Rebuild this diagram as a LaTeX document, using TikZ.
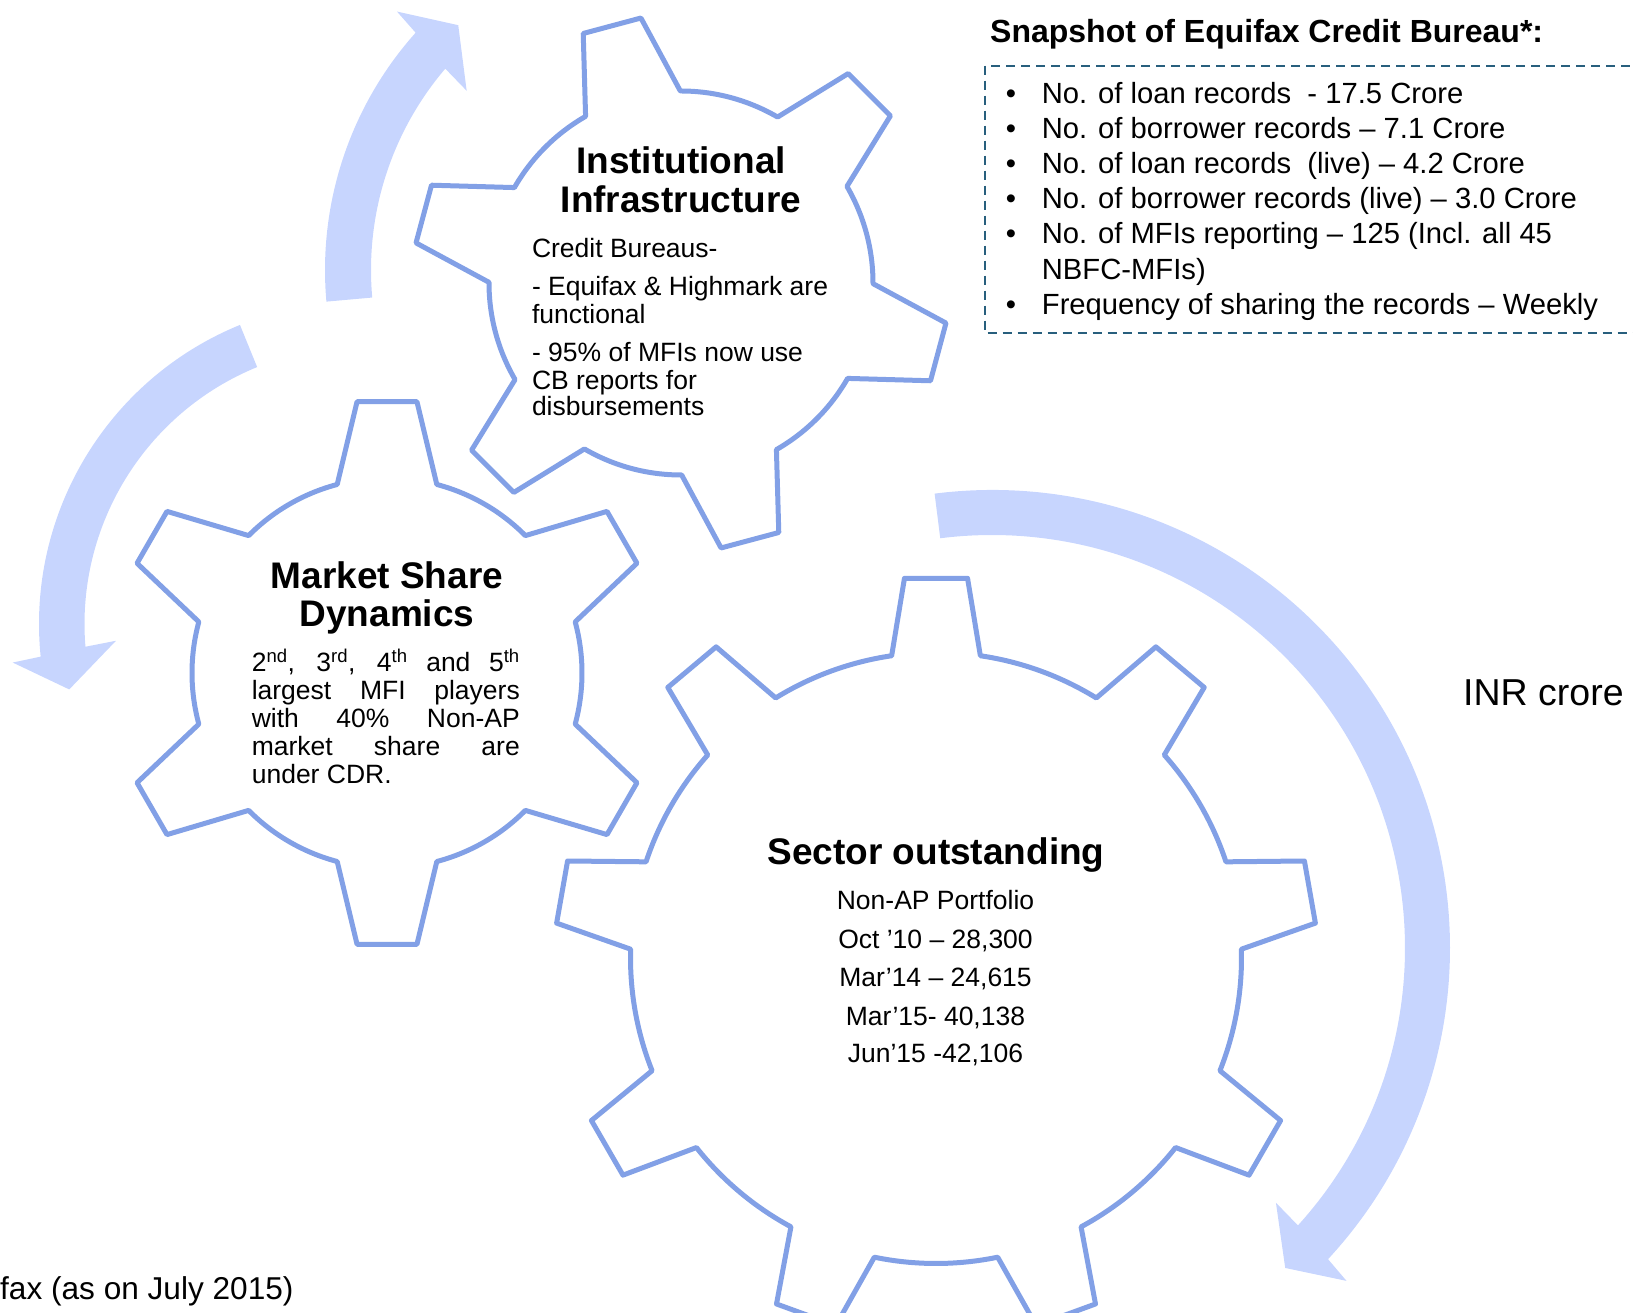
\documentclass[tikz,border=0pt]{standalone}
\usepackage{fontspec}
\setmainfont{Liberation Sans}
\definecolor{gearc}{RGB}{130,160,230}
\definecolor{arrowc}{RGB}{199,213,254}
\definecolor{boxc}{RGB}{40,95,125}
\newcommand\gearpath[6]{%
  \pgfmathsetmacro\gstep{360/#1}%
  \pgfmathsetmacro\gstart{#2-#6}%
  \draw[gearline] (\gstart:#5)
  \foreach \k in {1,...,#1} {
     -- ({#2+(\k-1)*\gstep-#4}:#3) -- ({#2+(\k-1)*\gstep+#4}:#3) -- ({#2+(\k-1)*\gstep+#6}:#5)
     arc[start angle={#2+(\k-1)*\gstep+#6}, end angle={#2+\k*\gstep-#6}, radius=#5]
  } -- cycle;
}
\begin{document}
\begin{tikzpicture}[x=1pt,y=1pt,
  gearline/.style={draw=gearc, line width=5pt, fill=white, line join=round},
  ttl/.style={font=\fontsize{37}{44}\selectfont\bfseries, inner sep=0pt, outer sep=0pt, anchor=base},
  body/.style={font=\fontsize{26.5}{31}\selectfont, inner sep=0pt, outer sep=0pt, anchor=base west},
  bodyc/.style={body, anchor=base},
  boxtxt/.style={font=\fontsize{29.2}{35}\selectfont, inner sep=0pt, outer sep=0pt, anchor=base west},
  bul/.style={boxtxt, anchor=base},
]
\useasboundingbox (0,0) rectangle (1633,1312);
\clip (0,0) rectangle (1633,1312);

% curved arrows
\begin{scope}[shift={(681,1042)}]
\fill[arrowc] (185.1:356) arc[start angle=185.1, end angle=138.2, radius=356] -- (137.7:384) -- (132.3:331) -- (140.1:279.4) -- (139.5:310) arc[start angle=139.5, end angle=185.1, radius=310] -- cycle;
\end{scope}
\begin{scope}[shift={(362,688)}]
\fill[arrowc] (112.2:323) arc[start angle=112.2, end angle=185.8, radius=323] -- (186.3:351.4) -- (192.6:300) -- (183.9:246.6) -- (184.7:277.5) arc[start angle=184.7, end angle=112.2, radius=277.5] -- cycle;
\end{scope}
\begin{scope}[shift={(992,364)}]
\fill[arrowc] (97.2:458) arc[start angle=97.2, end angle=-42.8, radius=458] -- (-43.2:486.3) -- (-47.5:434) -- (-41.9:381.5) -- (-42.2:413) arc[start angle=-42.2, end angle=97.2, radius=413] -- cycle;
\end{scope}

% gears
\begin{scope}[shift={(681,1029)}]
\gearpath{6}{105}{268}{6.4}{192}{14.8}
\end{scope}
\begin{scope}[shift={(387,639)}]
\gearpath{6}{30}{273}{6.3}{195}{14.8}
\end{scope}
\begin{scope}[shift={(936,354)}]
\gearpath{9}{90}{381}{4.75}{305.5}{8.35}
\end{scope}

% gear 1 text
\node[ttl] (g1t1) at (681,1138) {Institutional};
\node[ttl] (g1t2) at (681,1099.5) {Infrastructure};
\node[body] (g1a) at (532,1054) {Credit Bureaus-};
\node[body] (g1b) at (532,1016) {- Equifax \& Highmark are};
\node[body] (g1c) at (532,988.5) {functional};
\node[body] (g1d) at (532,950.6) {- 95\% of MFIs now use};
\node[body] (g1e) at (532,922.7) {CB reports for};
\node[body] (g1f) at (532,896) {disbursements};

% gear 2 text
\node[ttl] (g2t1) at (387,723) {Market Share};
\node[ttl] (g2t2) at (387,685) {Dynamics};
\node[body] (g2a) at (251.8,640) {\makebox[268pt][s]{2\textsuperscript{nd}, 3\textsuperscript{rd}, 4\textsuperscript{th} and 5\textsuperscript{th}}};
\node[body] (g2b) at (251.8,612) {\makebox[268pt][s]{largest MFI players}};
\node[body] (g2c) at (251.8,584.2) {\makebox[268pt][s]{with 40\% Non-AP}};
\node[body] (g2d) at (251.8,556.5) {\makebox[268pt][s]{market share are}};
\node[body] (g2e) at (251.8,528.7) {under CDR.};

% gear 3 text
\node[ttl] (g3t) at (936,447) {Sector outstanding};
\node[bodyc] (g3a) at (935.5,402) {Non-AP Portfolio};
\node[bodyc] (g3b) at (935.5,363.5) {Oct ’10 – 28,300};
\node[bodyc] (g3c) at (935.5,325) {Mar’14 – 24,615};
\node[bodyc] (g3d) at (935.5,286.5) {Mar’15- 40,138};
\node[bodyc] (g3e) at (935.5,249) {Jun’15 -42,106};

% snapshot box
\node[font=\fontsize{32}{38}\selectfont\bfseries, inner sep=0pt, anchor=base west] (snap) at (990,1269.3) {Snapshot of Equifax Credit Bureau*:};
\draw[boxc, line width=1.8pt, dash pattern=on 9pt off 6pt] (985,1246.3) rectangle (1700,979);
\node[bul] (b1) at (1011,1208.7) {•};
\node[bul] (b2) at (1011,1173.5) {•};
\node[bul] (b3) at (1011,1138.4) {•};
\node[bul] (b4) at (1011,1103.2) {•};
\node[bul] (b5) at (1011,1068.0) {•};
\node[bul] (b7) at (1011,997.7) {•};
\node[boxtxt] (l1) at (1041.9,1208.7) {No. of loan records~ - 17.5 Crore};
\node[boxtxt] (l2) at (1041.9,1173.5) {No. of borrower records – 7.1 Crore};
\node[boxtxt] (l3) at (1041.9,1138.4) {No. of loan records~ (live) – 4.2 Crore};
\node[boxtxt] (l4) at (1041.9,1103.2) {No. of borrower records (live) – 3.0 Crore};
\node[boxtxt] (l5) at (1041.9,1068.0) {No. of MFIs reporting – 125 (Incl. all 45};
\node[boxtxt] (l6) at (1041.9,1032.9) {NBFC-MFIs)};
\node[boxtxt] (l7) at (1041.9,997.7) {Frequency of sharing the records – Weekly};

% other labels
\node[font=\fontsize{37.5}{44}\selectfont, inner sep=0pt, anchor=base west] (inr) at (1463,606.5) {INR crore};
\node[font=\fontsize{31.6}{38}\selectfont, inner sep=0pt, anchor=base east] (src) at (293.7,13) {fax (as on July 2015)};
\end{tikzpicture}
\end{document}
